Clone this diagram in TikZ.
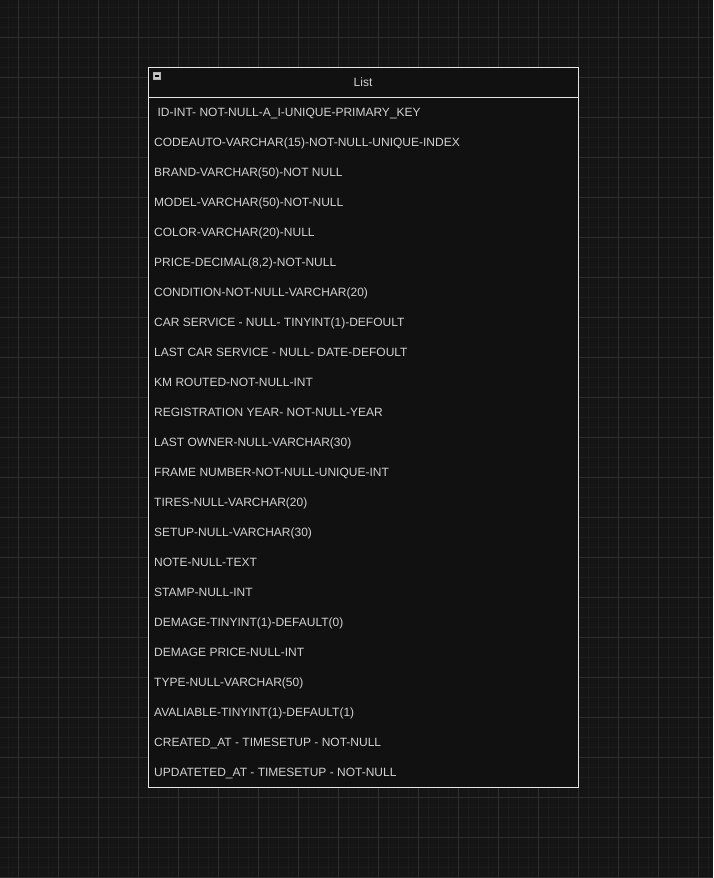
\documentclass[tikz,border=0pt]{standalone}
\usepackage{fontspec}
\setmainfont{Liberation Sans}
\definecolor{bgc}{HTML}{151515}
\definecolor{minorc}{HTML}{1B1B1B}
\definecolor{majorc}{HTML}{2E2E2E}
\definecolor{boxc}{HTML}{111111}
\definecolor{linec}{HTML}{E6E6E6}
\definecolor{txtc}{HTML}{D2D2D2}
\begin{document}
\begin{tikzpicture}[x=1pt,y=-1pt,
  rowtext/.style={anchor=base west,inner sep=0pt,text=txtc,font=\fontsize{12}{14}\selectfont},
  headtext/.style={anchor=base,inner sep=0pt,text=txtc,font=\fontsize{12}{14}\selectfont}]
\fill[bgc] (0,0) rectangle (713,878);
\useasboundingbox (0,0) rectangle (713,878);
% minor grid
\foreach \x in {8,18,...,708} \draw[minorc,line width=1pt] (\x,0) -- (\x,878);
\foreach \y in {7,17,...,877} \draw[minorc,line width=1pt] (0,\y) -- (713,\y);
% major grid
\foreach \x in {18,58,...,698} \draw[majorc,line width=1pt] (\x,0) -- (\x,878);
\foreach \y in {37,77,...,877} \draw[majorc,line width=1pt] (0,\y) -- (713,\y);
% table
\node[draw=linec,fill=boxc,line width=1pt,minimum width=430pt,minimum height=720pt,inner sep=0pt,anchor=north west] (tbl) at (148.3,67.3) {};
\coordinate (sepL) at (148.3,97.3);
\coordinate (sepR) at (578.3,97.3);
\draw[linec,line width=1pt] (sepL) -- (sepR);
\node[headtext] (title) at (363,86) {List};
\node[draw=gray!60,fill=gray!45,minimum size=7pt,inner sep=0pt,line width=0.6pt] (collapse) at (157,76) {};
\draw[black,line width=1.3pt] ([xshift=-2.2pt]collapse.center) -- ([xshift=2.2pt]collapse.center);
\foreach \t [count=\i] in {
 {\ ID-INT- NOT-NULL-A\_I-UNIQUE-PRIMARY\_KEY},
 {CODEAUTO-VARCHAR(15)-NOT-NULL-UNIQUE-INDEX},
 {BRAND-VARCHAR(50)-NOT NULL},
 {MODEL-VARCHAR(50)-NOT-NULL},
 {COLOR-VARCHAR(20)-NULL},
 {PRICE-DECIMAL(8,2)-NOT-NULL},
 {CONDITION-NOT-NULL-VARCHAR(20)},
 {CAR SERVICE - NULL- TINYINT(1)-DEFOULT},
 {LAST CAR SERVICE - NULL- DATE-DEFOULT},
 {KM ROUTED-NOT-NULL-INT},
 {REGISTRATION YEAR- NOT-NULL-YEAR},
 {LAST OWNER-NULL-VARCHAR(30)},
 {FRAME NUMBER-NOT-NULL-UNIQUE-INT},
 {TIRES-NULL-VARCHAR(20)},
 {SETUP-NULL-VARCHAR(30)},
 {NOTE-NULL-TEXT},
 {STAMP-NULL-INT},
 {DEMAGE-TINYINT(1)-DEFAULT(0)},
 {DEMAGE PRICE-NULL-INT},
 {TYPE-NULL-VARCHAR(50)},
 {AVALIABLE-TINYINT(1)-DEFAULT(1)},
 {CREATED\_AT - TIMESETUP - NOT-NULL},
 {UPDATETED\_AT - TIMESETUP - NOT-NULL}}
 \node[rowtext] (row\i) at (154,{86+30*\i}) {\t};
\end{tikzpicture}
\end{document}
